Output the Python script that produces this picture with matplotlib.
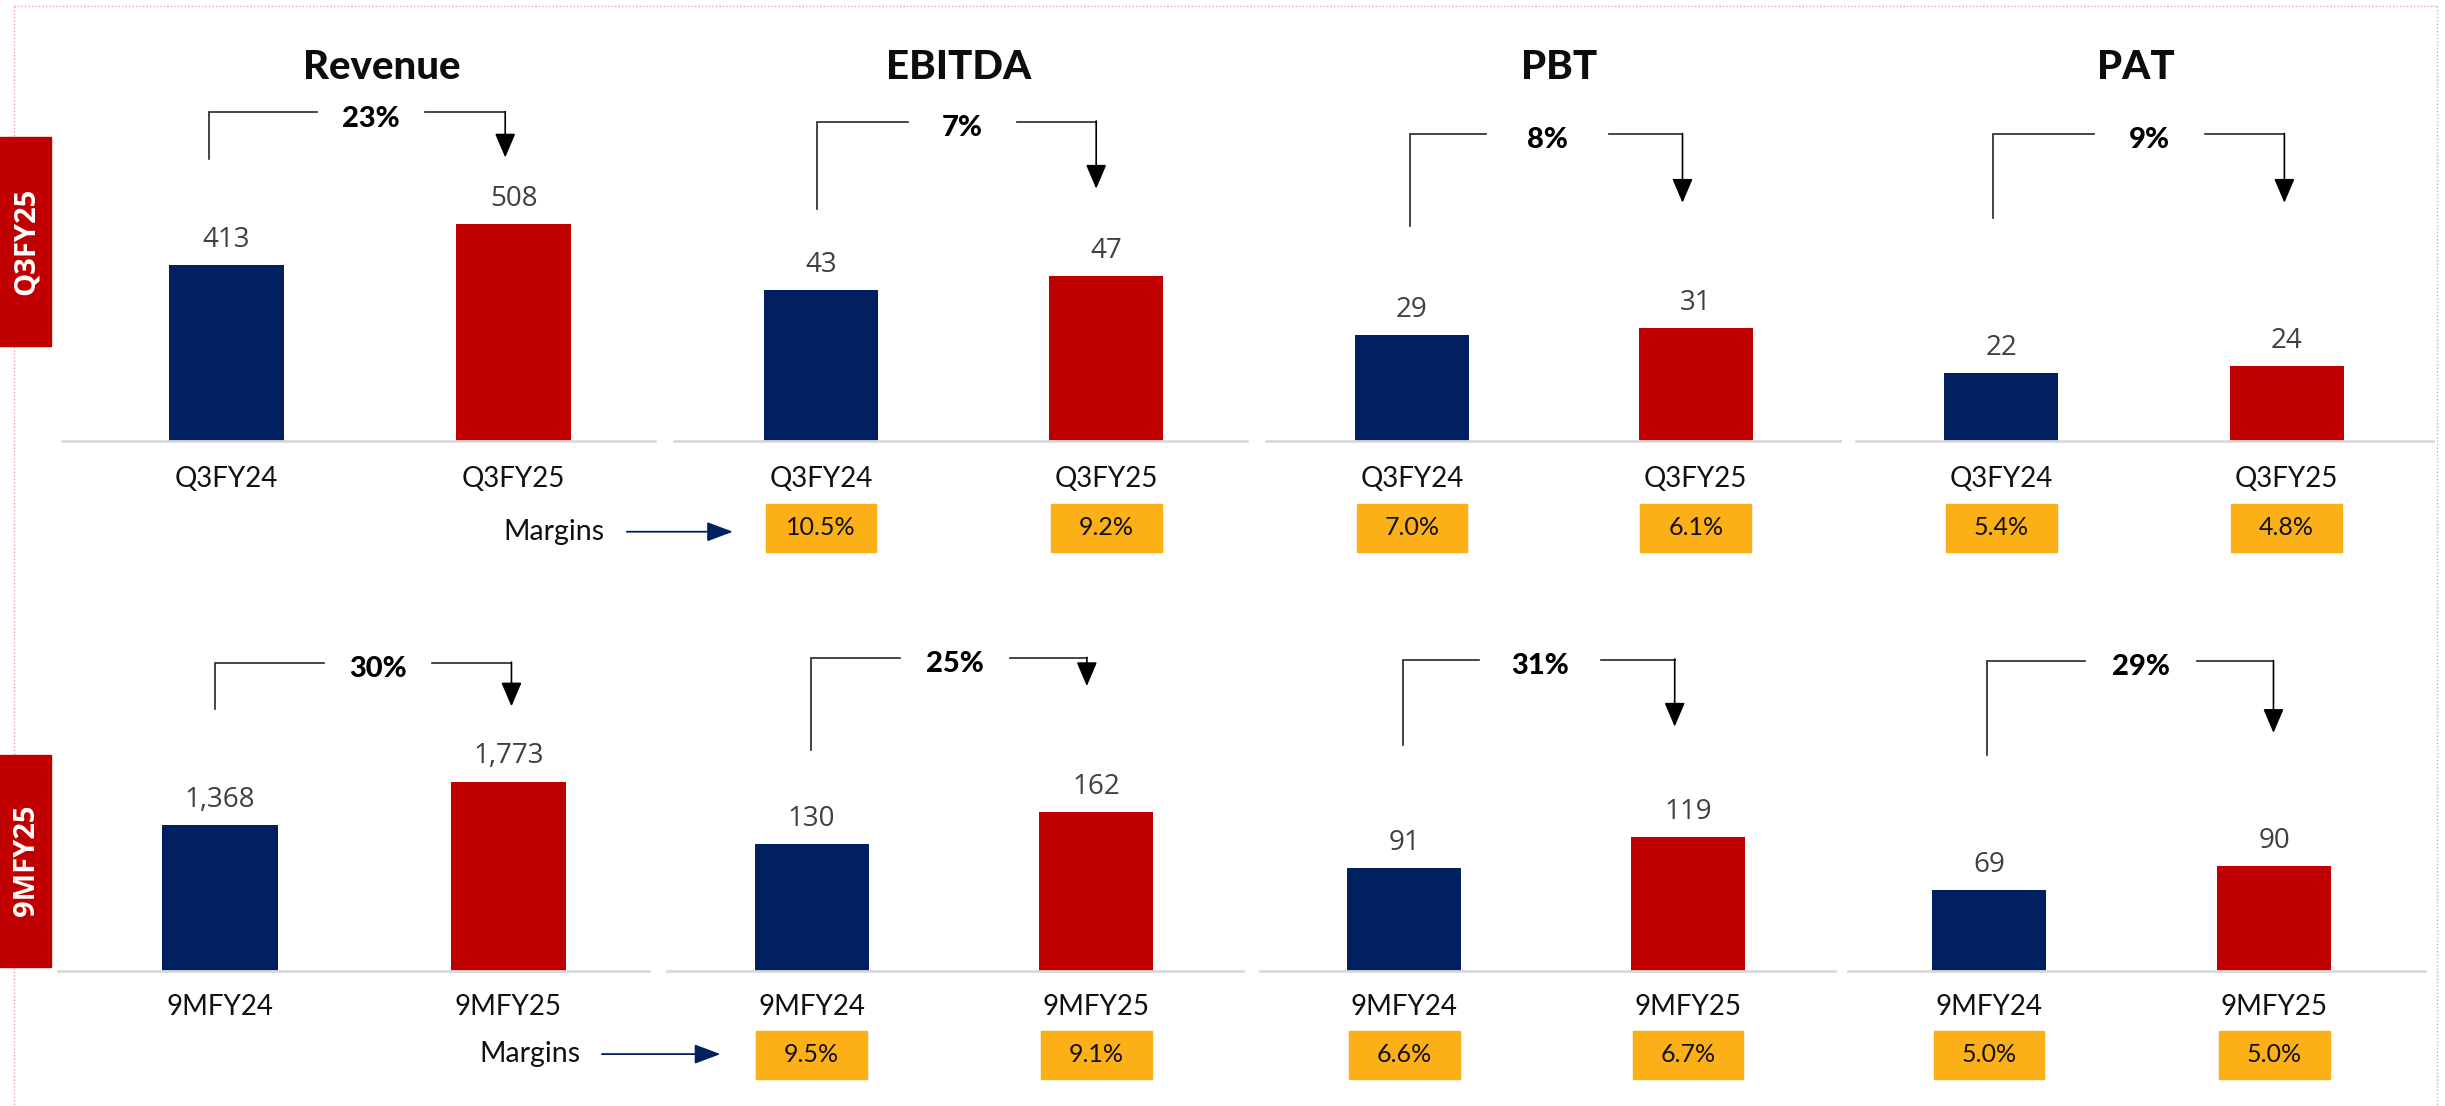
import matplotlib
matplotlib.use("Agg")
import matplotlib.pyplot as plt
from matplotlib.patches import Rectangle

# ---------------- data ----------------
metrics = ["Revenue", "EBITDA", "PBT", "PAT"]
periods_q3 = ["Q3FY24", "Q3FY25"]
periods_9m = ["9MFY24", "9MFY25"]
q3_values = [[413, 508], [43, 47], [29, 31], [22, 24]]
nm_values = [[1368, 1773], [130, 162], [91, 119], [69, 90]]
q3_labels = [["413", "508"], ["43", "47"], ["29", "31"], ["22", "24"]]
nm_labels = [["1,368", "1,773"], ["130", "162"], ["91", "119"], ["69", "90"]]
q3_growth = ["23%", "7%", "8%", "9%"]
nm_growth = ["30%", "25%", "31%", "29%"]
q3_margins = [None, ["10.5%", "9.2%"], ["7.0%", "6.1%"], ["5.4%", "4.8%"]]
nm_margins = [None, ["9.5%", "9.1%"], ["6.6%", "6.7%"], ["5.0%", "5.0%"]]
row_labels = ["Q3FY25", "9MFY25"]

# ---------------- style / layout ----------------
W, H, DPI = 2445, 1106, 100
S = 2445 / 1568.0
NAVY, RED, ORANGE = "#002060", "#C00000", "#FCB017"
AXIS_GRAY, VAL_GRAY = "#D9D9D9", "#404040"
FONT = ["Lato", "DejaVu Sans"]
VFONT = ["Open Sans", "DejaVu Sans"]
plt.rcParams["font.family"] = FONT

rows = [
    dict(values=q3_values, labels=q3_labels, cats=periods_q3, growth=q3_growth,
         margins=q3_margins, base=283, height=283,
         ymax=[1034, 125.5, 120.7, 141.5],
         axx=[(40, 420), (432, 800), (812, 1180), (1190, 1560)],
         c0=[145, 526.5, 905.5, 1283.5], sp=[184.5, 183, 182, 183],
         br=[(134, 324, 72, 102, 101), (524, 703, 78, 134, 121),
             (904, 1079, 86, 145, 130), (1278, 1465, 86, 140, 130)],
         gaps=[(203, 272.5), (582, 652), (953, 1032), (1343, 1414)],
         cat_y=307, box_y=(323, 354), marg_txt=(355, 341), marg_arr=(402, 470),
         tag=(88, 222)),
    dict(values=nm_values, labels=nm_labels, cats=periods_9m, growth=nm_growth,
         margins=nm_margins, base=623, height=283,
         ymax=[4119, 449, 390, 375.5],
         axx=[(37, 416), (428, 797), (808, 1177), (1185, 1555)],
         c0=[141, 520.5, 900.5, 1275.5], sp=[185, 182.5, 182, 183],
         br=[(138, 328, 425, 455, 453), (520, 697, 422, 481, 440),
             (900, 1074, 423, 478, 466), (1274, 1458, 424, 484, 470)],
         gaps=[(208, 277), (577, 648), (948.5, 1027), (1337, 1409)],
         cat_y=646, box_y=(661, 692), marg_txt=(340, 676), marg_arr=(386, 462),
         tag=(484, 620)),
]
BAR_W = 0.40
BOX_W = 71 * S

fig = plt.figure(figsize=(W / DPI, H / DPI), dpi=DPI, facecolor="white")
ovl = fig.add_axes([0, 0, 1, 1])
ovl.set_xlim(0, W)
ovl.set_ylim(H, 0)
ovl.axis("off")

# dotted border
bc = "#F0A0A0"
ovl.plot([14, 2437], [6, 6], ls=(0, (1, 1.5)), color=bc, lw=1)
ovl.plot([14, 14], [6, H], ls=(0, (1, 1.5)), color=bc, lw=1)
ovl.plot([2437, 2437], [6, H], ls=(0, (1, 1.5)), color=bc, lw=1)

# titles
title_x = [245, 615, 1000, 1370]
for t, tx in zip(metrics, title_x):
    ovl.text(tx * S, 43 * S, t, ha="center", va="center", fontsize=29,
             fontweight="black", color="#0D0D0D")

for r, row in enumerate(rows):
    # row tag
    t0, t1 = row["tag"]
    ovl.add_patch(Rectangle((0, t0 * S), 33 * S, (t1 - t0) * S, color=RED, zorder=3))
    ovl.text(17 * S, (t0 + t1) / 2 * S, row_labels[r], rotation=90, ha="center",
             va="center", color="white", fontsize=21, fontweight="bold",
             family=VFONT, zorder=4)

    for p in range(4):
        x0, x1 = row["axx"][p]
        ybot = row["base"] * S
        ytop = (row["base"] - row["height"]) * S
        ax = fig.add_axes([x0 * S / W, 1 - ybot / H, (x1 - x0) * S / W, (ybot - ytop) / H])
        ax.patch.set_alpha(0)
        c0, sp = row["c0"][p], row["sp"][p]
        ax.set_xlim(-(c0 - x0) / sp, (x1 - c0) / sp)
        ax.set_ylim(0, row["ymax"][p])
        vals = row["values"][p]
        ax.bar([0, 1], vals, width=BAR_W, color=[NAVY, RED], zorder=2)
        for i, v in enumerate(vals):
            ax.annotate(row["labels"][p][i], (i, v), xytext=(0, 13),
                        textcoords="offset points", ha="center", va="baseline",
                        fontsize=20, color=VAL_GRAY, family=VFONT)
        for s in ["top", "left", "right"]:
            ax.spines[s].set_visible(False)
        ax.spines["bottom"].set_color(AXIS_GRAY)
        ax.spines["bottom"].set_linewidth(2)
        ax.set_xticks([])
        ax.set_yticks([])

        # bar centers in overlay pixel coords
        centers = [ax.transData.transform((i, 0))[0] for i in range(2)]

        # category labels
        for i in range(2):
            ovl.text(centers[i], row["cat_y"] * S, row["cats"][i], ha="center",
                     va="center", fontsize=20, color="#111111")

        # margin boxes
        if row["margins"][p] is not None:
            b0, b1 = row["box_y"]
            for i in range(2):
                ovl.add_patch(Rectangle((centers[i] - BOX_W / 2, b0 * S), BOX_W,
                                        (b1 - b0) * S, color=ORANGE, zorder=3))
                ovl.text(centers[i], (b0 + b1) / 2 * S, row["margins"][p][i],
                         ha="center", va="center", fontsize=18, color="#111111",
                         zorder=4)

        # growth bracket
        xl, xr, yt, ylb, ytip = row["br"][p]
        g0, g1 = row["gaps"][p]
        lc = "#262626"
        ovl.plot([xl * S, xl * S, g0 * S], [ylb * S, yt * S, yt * S], color=lc,
                 lw=1.2, solid_joinstyle="miter", zorder=2)
        ovl.plot([g1 * S, xr * S], [yt * S, yt * S], color=lc, lw=1.2, zorder=2)
        ovl.annotate("", xy=(xr * S, ytip * S), xytext=(xr * S, yt * S - 0.6),
                     arrowprops=dict(arrowstyle="-|>,head_length=0.75,head_width=0.32",
                                     color="black", lw=1.2, shrinkA=0, shrinkB=0,
                                     mutation_scale=20), zorder=2)
        ovl.text((g0 + g1) / 2 * S, (yt + 4) * S, row["growth"][p], ha="center",
                 va="center", fontsize=21, fontweight="black", color="black",
                 zorder=5)

    # "Margins" arrow
    mx, my = row["marg_txt"]
    a0, a1 = row["marg_arr"]
    ovl.text(mx * S, my * S, "Margins", ha="center", va="center", fontsize=20.5,
             color="#111111")
    ovl.annotate("", xy=(a1 * S, my * S), xytext=(a0 * S, my * S),
                 arrowprops=dict(arrowstyle="-|>,head_length=0.8,head_width=0.3",
                                 color=NAVY, lw=1.3, shrinkA=0, shrinkB=0,
                                 mutation_scale=20))

fig.savefig("out.png", dpi=DPI, facecolor="white")
